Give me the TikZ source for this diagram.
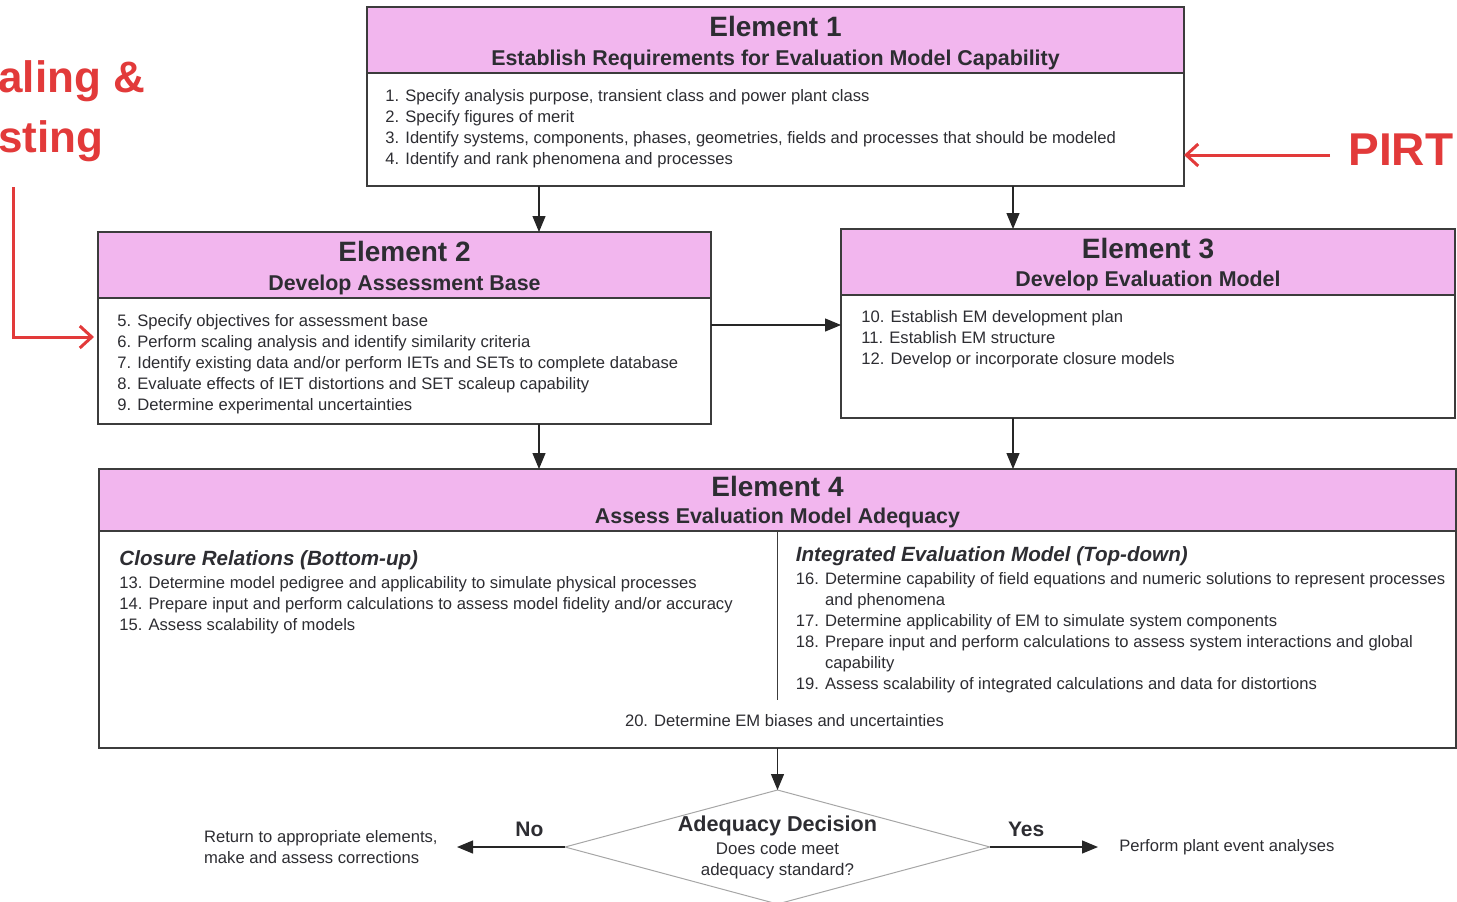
\documentclass[tikz,border=0pt]{standalone}
\usepackage{fontspec}
\setmainfont{Liberation Sans}
\usetikzlibrary{positioning,shapes.geometric,arrows.meta}

\definecolor{elpink}{RGB}{242,182,238}
\definecolor{elline}{RGB}{60,60,60}
\definecolor{eltext}{RGB}{45,45,50}
\definecolor{pirtred}{RGB}{226,58,58}

\tikzset{
  hdr/.style={draw=elline, line width=0.75pt, fill=elpink, anchor=north west, outer sep=0pt, inner sep=0pt},
  bdy/.style={draw=elline, line width=0.75pt, fill=white, anchor=north, outer sep=0pt, inner sep=0pt},
  ttl/.style={font=\fontsize{14}{16}\selectfont\bfseries, text=eltext, inner sep=0pt},
  sub/.style={font=\fontsize{10.7}{12}\selectfont\bfseries, text=eltext, inner sep=0pt},
  items/.style={font=\fontsize{8.3}{10.5}\selectfont, text=eltext, align=left, inner sep=0pt},
  lbl/.style={font=\fontsize{10.5}{12}\selectfont\bfseries, text=eltext, inner sep=0pt},
  decn/.style={diamond, draw=black!35, line width=0.5pt, minimum width=212.5pt, minimum height=57pt, inner sep=0pt, outer sep=0pt},
  arr/.style={-{Triangle[length=8pt,width=6.5pt]}, line width=0.6pt, draw=black!85},
  redarr/.style={-{Straight Barb[length=6pt,width=11pt]}, line width=1.5pt, draw=pirtred},
  redlbl/.style={font=\fontsize{22}{30}\selectfont\bfseries, text=pirtred, inner sep=0pt, align=left},
}
\newcommand{\colhd}{\fontsize{10.3}{12}\selectfont\bfseries\itshape}

\begin{document}
\begin{tikzpicture}[x=0.5pt, y=-0.5pt]
    \useasboundingbox (0,0) rectangle (1457,901);
    %\draw [help lines, step=50] (0,0) grid (1457,901);

    % element boxes
    \node [hdr, minimum width=408.5pt, minimum height=33pt] (e1h) at (367,7) {};
    \node [bdy, minimum width=408.5pt, minimum height=56.5pt, below=0pt of e1h] (e1b) {};
    \node [hdr, minimum width=306.5pt, minimum height=33pt] (e2h) at (98,232) {};
    \node [bdy, minimum width=306.5pt, minimum height=63pt, below=0pt of e2h] (e2b) {};
    \node [hdr, minimum width=307pt, minimum height=33pt] (e3h) at (841,229) {};
    \node [bdy, minimum width=307pt, minimum height=61.5pt, below=0pt of e3h] (e3b) {};
    \node [hdr, minimum width=678.5pt, minimum height=31pt] (e4h) at (99,469) {};
    \node [bdy, minimum width=678.5pt, minimum height=108.5pt, below=0pt of e4h] (e4b) {};

    % titles
    \node [ttl, below=4.5pt of e1h.north] (e1t) {Element 1};
    \node [sub, above=1.5pt of e1h.south] (e1s) {Establish Requirements for Evaluation Model Capability};
    \node [ttl, below=4.5pt of e2h.north] (e2t) {Element 2};
    \node [sub, above=1.5pt of e2h.south] (e2s) {Develop Assessment Base};
    \node [ttl, below=4.5pt of e3h.north] (e3t) {Element 3};
    \node [sub, above=2pt of e3h.south] (e3s) {Develop Evaluation Model};
    \node [ttl, below=3.5pt of e4h.north] (e4t) {Element 4};
    \node [sub, above=1.5pt of e4h.south] (e4s) {Assess Evaluation Model Adequacy};

    % steps
    \node [items, below right=8pt and 9pt of e1b.north west] (e1i) {1. Specify analysis purpose, transient class and power plant class\\
        2. Specify figures of merit\\
        3. Identify systems, components, phases, geometries, fields and processes that should be modeled\\
        4. Identify and rank phenomena and processes};
    \node [items, below right=8pt and 9.5pt of e2b.north west] (e2i) {5. Specify objectives for assessment base\\
        6. Perform scaling analysis and identify similarity criteria\\
        7. Identify existing data and/or perform IETs and SETs to complete database\\
        8. Evaluate effects of IET distortions and SET scaleup capability\\
        9. Determine experimental uncertainties};
    \node [items, below right=7.5pt and 10pt of e3b.north west] (e3i) {10. Establish EM development plan\\
        11. Establish EM structure\\
        12. Develop or incorporate closure models};

    \coordinate [below=84.5pt of e4b.north] (dv);
    \draw [line width=0.75pt, elline] (e4b.north) -- (dv);
    \node [items, below right=9.5pt and 10pt of e4b.north west] (e4l) {{\colhd Closure Relations (Bottom-up)}\\[1pt]
        13. Determine model pedigree and applicability to simulate physical processes\\
        14. Prepare input and perform calculations to assess model fidelity and/or accuracy\\
        15. Assess scalability of models};
    \node [items, below right=7.5pt and 9pt of e4b.north] (e4r) {{\colhd Integrated Evaluation Model (Top-down)}\\[1pt]
        16. Determine capability of field equations and numeric solutions to represent processes\\
        \phantom{16. }and phenomena\\
        17. Determine applicability of EM to simulate system components\\
        18. Prepare input and perform calculations to assess system interactions and global\\
        \phantom{18. }capability\\
        19. Assess scalability of integrated calculations and data for distortions};
    \node [items, above=10.5pt of e4b.south, xshift=3.5pt] (e4c) {20. Determine EM biases and uncertainties};

    % flow arrows
    \coordinate (c2) at (539,0);
    \coordinate (c3) at (1013,0);
    \coordinate (c23) at (0,325);
    \draw [arr] (e1b.south -| c2) -- (e2h.north -| c2);
    \draw [arr] (e1b.south -| c3) -- (e3h.north -| c3);
    \draw [arr] (e2b.east |- c23) -- (e3b.west |- c23);
    \draw [arr] (e2b.south -| c2) -- (e4h.north -| c2);
    \draw [arr] (e3b.south -| c3) -- (e4h.north -| c3);

    % decision
    \node [decn, below=21pt of e4b.south] (dec) {};
    \node [items, align=center] (dect) at (dec.center) {{\fontsize{10.8}{12}\selectfont\bfseries Adequacy Decision}\\[1pt]
        {\fontsize{8.45}{10.5}\selectfont Does code meet}\\
        {\fontsize{8.45}{10.5}\selectfont adequacy standard?}};
    \draw [arr] (e4b.south) -- (dec.north);

    \node [items, left=63.5pt of dec.west] (ret) {Return to appropriate elements,\\make and assess corrections};
    \node [items, right=64.5pt of dec.east] (yes) {Perform plant event analyses};
    \draw [arr, shorten >=9.5pt] (dec.west) -- (ret) node [lbl, pos=0.28, above=5pt] {No};
    \draw [arr, shorten >=10.5pt] (dec.east) -- (yes) node [lbl, pos=0.28, above=5pt] {Yes};

    % red notes
    \node [redlbl, anchor=north west] (scl) at (-2,60) {aling \&\\sting};
    \coordinate (rs) at (13,187);
    \coordinate (rt) at (94,337);
    \draw [redarr] (rs) |- (rt);

    \node [redlbl, font=\fontsize{23}{26}\selectfont\bfseries, anchor=west] (pirt) at (1348,150) {PIRT};
    \coordinate (pa) at (1330,155);
    \draw [redarr] (pa) -- (pa -| e1b.east);

\end{tikzpicture}
\end{document}
